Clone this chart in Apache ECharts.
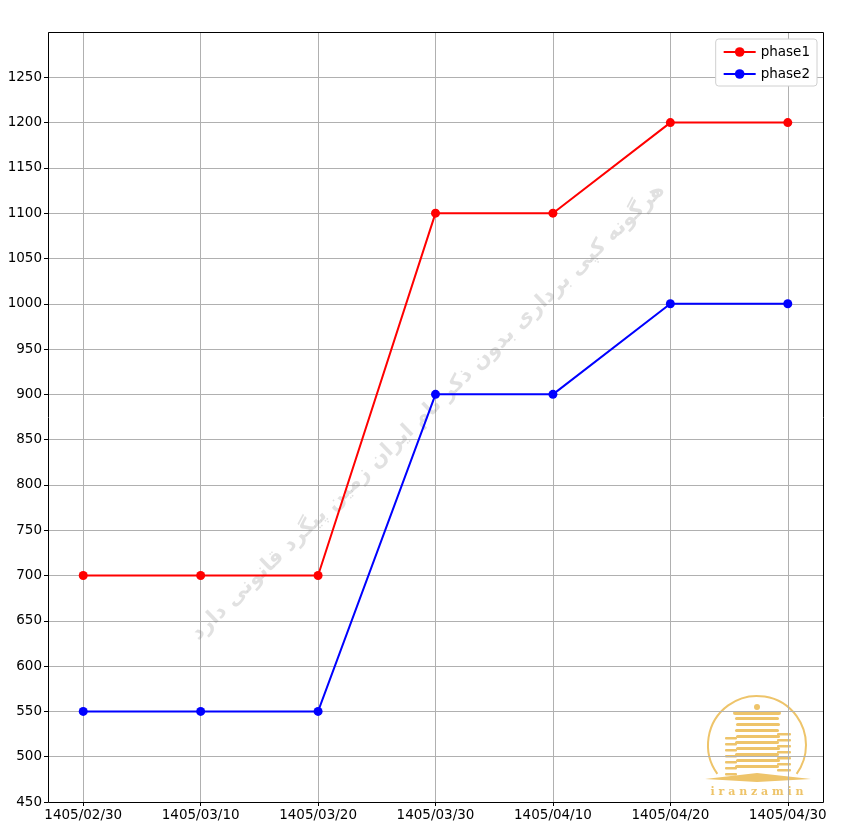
<!DOCTYPE html>
<html><head><meta charset="utf-8">
<script src="https://cdn.jsdelivr.net/npm/echarts@6/dist/echarts.min.js"></script>
<style>html,body{margin:0;padding:0;background:#fff}#c{width:852px;height:836px}</style>
</head><body><div id="c"></div>
<script>
const categories = ['1405/02/30','1405/03/10','1405/03/20','1405/03/30','1405/04/10','1405/04/20','1405/04/30'];
const phase1 = [700, 700, 700, 1100, 1100, 1200, 1200];
const phase2 = [550, 550, 550, 900, 900, 1000, 1000];
const watermarkText = 'هرگونه کپی برداری بدون ذکر نام ایران زمین پیگرد قانونی دارد';
const logoText = 'i r a n z a m i n';

const chart = echarts.init(document.getElementById('c'));
const pos = categories.map((_, i) => i + 1);
const font = 'DejaVu Sans';
const gold = '#eec46a';

const bars = [];
for (let i = 0; i < 9; i++) {
  bars.push({type:'rect', shape:{x:-22 + (i%2), y:-28 + i*6, width:44, height:3, r:1.5}, style:{fill:gold}});
}
for (let i = 0; i < 7; i++) {
  bars.push({type:'rect', shape:{x:-32, y:-8 + i*6, width:12, height:2.5, r:1}, style:{fill:gold}});
  bars.push({type:'rect', shape:{x:20, y:-12 + i*6, width:14, height:2.5, r:1}, style:{fill:gold}});
}

chart.setOption({
  animation: false,
  grid: {left: 48, top: 32, right: 29, bottom: 34, show: false},
  xAxis: {
    type: 'value', min: 0.7, max: 7.3, position: 'bottom',
    axisLine: {show: false, onZero: false},
    axisTick: {show: true, customValues: pos, length: 4, lineStyle: {color: '#000'}},
    axisLabel: {customValues: pos, formatter: v => categories[Math.round(v) - 1], color: '#000', fontFamily: font, fontSize: 13.5, margin: 6},
    splitLine: {show: true, lineStyle: {color: '#b0b0b0', width: 1}}
  },
  yAxis: {
    type: 'value', min: 450, max: 1300, interval: 50, position: 'left',
    axisLine: {show: false, onZero: false},
    axisTick: {show: true, length: 4, lineStyle: {color: '#000'}},
    axisLabel: {showMaxLabel: false, formatter: v => String(v), color: '#000', fontFamily: font, fontSize: 13.5, margin: 6},
    splitLine: {show: true, lineStyle: {color: '#b0b0b0', width: 1}}
  },
  legend: {
    right: 35, top: 39, orient: 'vertical',
    backgroundColor: '#fff', borderColor: '#d0d0d0', borderWidth: 1, borderRadius: 3,
    padding: [6, 7, 5, 7], itemGap: 8, itemWidth: 32, itemHeight: 12,
    textStyle: {fontFamily: font, fontSize: 13.5, color: '#000'},
    data: ['phase1', 'phase2']
  },
  series: [
    {name: 'phase1', type: 'line', data: pos.map((x, i) => [x, phase1[i]]), color: '#ff0000', symbol: 'circle', symbolSize: 9, lineStyle: {width: 2}, z: 3},
    {name: 'phase2', type: 'line', data: pos.map((x, i) => [x, phase2[i]]), color: '#0000ff', symbol: 'circle', symbolSize: 9, lineStyle: {width: 2}, z: 3}
  ],
  graphic: [
    {type: 'rect', z: 50, shape: {x: 48.5, y: 32.5, width: 775, height: 770}, style: {fill: null, stroke: '#000', lineWidth: 1}},
    {type: 'text', x: 428, y: 412, rotation: Math.PI/4.1, z: 1,
     style: {text: watermarkText, fill: 'rgba(120,120,120,0.22)', font: 'bold 21px "DejaVu Sans"', align: 'center', verticalAlign: 'middle'}},
    {type: 'group', x: 757, y: 745, z: 10, children: [
      {type: 'arc', shape: {cx: 0, cy: 0, r: 49, startAngle: Math.PI*0.8, endAngle: Math.PI*0.2}, style: {stroke: gold, lineWidth: 2, fill: null}},
      {type: 'rect', shape: {x: -24, y: -34, width: 48, height: 4, r: 2}, style: {fill: gold}},
      {type: 'circle', shape: {cx: 0, cy: -38, r: 3}, style: {fill: gold}},
      ...bars,
      {type: 'polygon', shape: {points: [[-52, 34], [0, 28], [54, 34], [0, 37]]}, style: {fill: gold}},
      {type: 'text', x: 0, y: 47, style: {text: logoText, fill: gold, font: 'bold 11px "DejaVu Serif"', align: 'center', verticalAlign: 'middle'}}
    ]}
  ]
});
</script></body></html>
